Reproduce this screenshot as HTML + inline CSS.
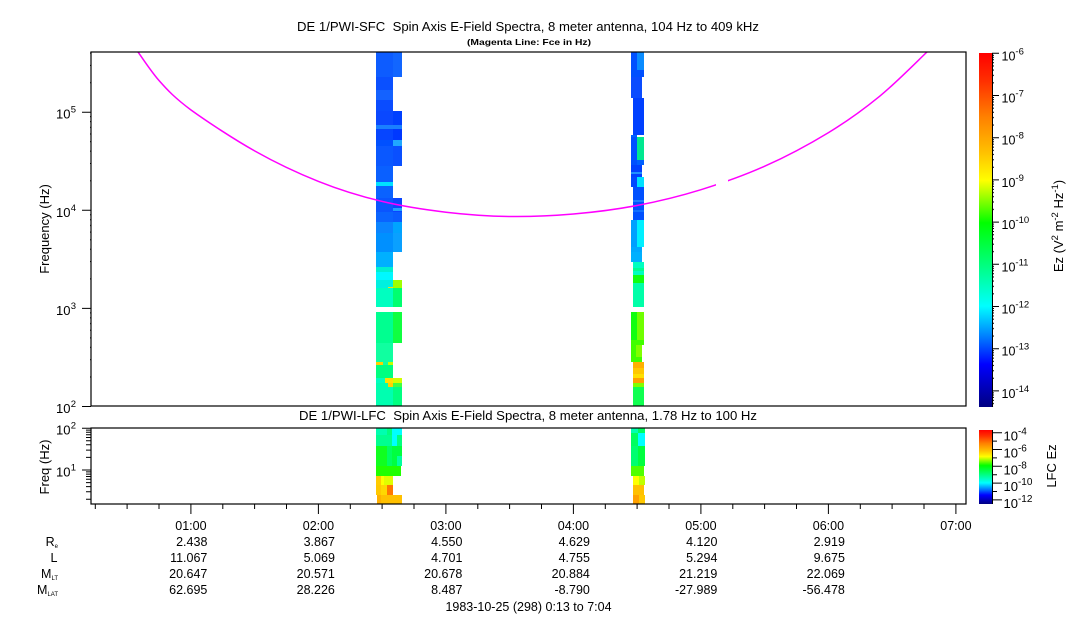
<!DOCTYPE html>
<html>
<head>
<meta charset="utf-8">
<style>
html,body{margin:0;padding:0;background:#fff;}
svg{display:block;}
text{font-family:"Liberation Sans",Arial,sans-serif;fill:#000;}
</style>
</head>
<body>
<svg width="1083" height="620" viewBox="0 0 1083 620" xmlns="http://www.w3.org/2000/svg">
<defs>
<linearGradient id="jet" x1="0" y1="0" x2="0" y2="1">
<stop offset="0" stop-color="#ff0000"/>
<stop offset="0.08" stop-color="#ff3000"/>
<stop offset="0.18" stop-color="#ff8000"/>
<stop offset="0.28" stop-color="#ffc000"/>
<stop offset="0.36" stop-color="#ffff00"/>
<stop offset="0.42" stop-color="#80ff00"/>
<stop offset="0.48" stop-color="#00ff00"/>
<stop offset="0.60" stop-color="#00ff80"/>
<stop offset="0.715" stop-color="#00ffff"/>
<stop offset="0.80" stop-color="#0080ff"/>
<stop offset="0.88" stop-color="#0000ff"/>
<stop offset="1" stop-color="#000080"/>
</linearGradient>
<pattern id="cbm" x="0" y="53.3" width="10" height="42.2" patternUnits="userSpaceOnUse">
<path d="M0 1.93h4M0 4.1h4M0 6.5h4M0 9.4h4M0 12.7h4M0 16.8h4M0 22.07h4M0 29.5h4" stroke="#000" stroke-width="1"/>
</pattern>
<pattern id="lax" x="0" y="14.1" width="10" height="98.1" patternUnits="userSpaceOnUse">
<path d="M0 4.5h5M0 9.5h5M0 15.2h5M0 21.8h5M0 29.5h5M0 39h5M0 51.3h5M0 68.6h5" stroke="#000" stroke-width="1"/>
</pattern>
<clipPath id="mainclip"><rect x="91" y="52" width="875" height="354"/></clipPath>
</defs>

<!-- Titles -->
<text x="528" y="31" text-anchor="middle" font-size="13" textLength="462" lengthAdjust="spacingAndGlyphs" style="white-space:pre">DE 1/PWI-SFC  Spin Axis E-Field Spectra, 8 meter antenna, 104 Hz to 409 kHz</text>
<text x="529" y="45" text-anchor="middle" font-size="8.5" font-weight="bold" textLength="124" lengthAdjust="spacingAndGlyphs">(Magenta Line: Fce in Hz)</text>
<text x="528" y="420" text-anchor="middle" font-size="13" textLength="458" lengthAdjust="spacingAndGlyphs" style="white-space:pre">DE 1/PWI-LFC  Spin Axis E-Field Spectra, 8 meter antenna, 1.78 Hz to 100 Hz</text>

<!-- Main plot data -->
<g shape-rendering="crispEdges">
<rect x="376" y="52" width="17" height="25" fill="#0d5cff"/><rect x="393" y="52" width="9" height="25" fill="#1266ff"/>
<rect x="376" y="77" width="17" height="13" fill="#0a50ff"/>
<rect x="376" y="90" width="17" height="10" fill="#1462ff"/>
<rect x="376" y="100" width="17" height="11" fill="#0a4cff"/>
<rect x="376" y="111" width="17" height="14" fill="#0a48ff"/><rect x="393" y="111" width="9" height="14" fill="#0040ff"/>
<rect x="376" y="125" width="26" height="4" fill="#1a80ff"/>
<rect x="376" y="129" width="17" height="11" fill="#0645ff"/><rect x="393" y="129" width="9" height="11" fill="#0038ff"/>
<rect x="376" y="140" width="17" height="6" fill="#0050ff"/><rect x="393" y="140" width="9" height="6" fill="#20a8ff"/>
<rect x="376" y="146" width="17" height="20" fill="#0a58ff"/><rect x="393" y="146" width="9" height="20" fill="#0a50ff"/>
<rect x="376" y="166" width="17" height="16" fill="#0a60ff"/>
<rect x="376" y="182" width="17" height="4" fill="#00e0ff"/>
<rect x="376" y="186" width="17" height="12" fill="#0a62ff"/>
<rect x="376" y="198" width="17" height="14" fill="#0a55ff"/><rect x="393" y="198" width="9" height="14" fill="#0a45ff"/>
<rect x="393" y="208" width="9" height="3" fill="#20a0ff"/>
<rect x="376" y="212" width="17" height="10" fill="#0a64ff"/><rect x="393" y="212" width="9" height="10" fill="#0a5cff"/>
<rect x="376" y="222" width="17" height="11" fill="#0a84ff"/><rect x="393" y="222" width="9" height="11" fill="#00a4ff"/>
<rect x="376" y="233" width="17" height="19" fill="#0090ff"/><rect x="393" y="233" width="9" height="19" fill="#0aa0ff"/>
<rect x="376" y="252" width="17" height="15" fill="#00b0ff"/>
<rect x="376" y="267" width="17" height="5" fill="#00f0d0"/>
<rect x="376" y="272" width="17" height="8" fill="#00f8ff"/>
<rect x="376" y="280" width="17" height="8" fill="#00f0e0"/><rect x="393" y="280" width="9" height="8" fill="#a0ff00"/>
<rect x="388" y="287" width="5" height="3" fill="#ffe000"/>
<rect x="376" y="288" width="17" height="19" fill="#00ffc0"/><rect x="393" y="288" width="9" height="19" fill="#00ff70"/>
<rect x="376" y="312" width="17" height="31" fill="#00ff90"/><rect x="393" y="312" width="9" height="31" fill="#10ff40"/>
<rect x="376" y="343" width="17" height="19" fill="#10ffa0"/>
<rect x="376" y="362" width="7" height="3" fill="#ffd000"/><rect x="383" y="362" width="5" height="3" fill="#10ffa0"/><rect x="388" y="362" width="5" height="3" fill="#c0ff00"/>
<rect x="376" y="365" width="17" height="13" fill="#00ff80"/>
<rect x="376" y="378" width="9" height="5" fill="#00ffc0"/><rect x="385" y="378" width="8" height="5" fill="#ffe000"/><rect x="393" y="378" width="9" height="5" fill="#d0ff00"/>
<rect x="376" y="383" width="12" height="4" fill="#00ffb0"/><rect x="388" y="383" width="5" height="4" fill="#ffd000"/><rect x="393" y="383" width="9" height="4" fill="#40ff40"/>
<rect x="376" y="387" width="17" height="19" fill="#00ffb0"/><rect x="393" y="387" width="9" height="19" fill="#00ff80"/>

<rect x="631" y="52" width="6" height="25" fill="#0050ff"/><rect x="637" y="52" width="7" height="18" fill="#0a8cff"/><rect x="637" y="70" width="7" height="7" fill="#0050ff"/>
<rect x="631" y="77" width="11" height="21" fill="#0a4cff"/>
<rect x="633" y="98" width="11" height="37" fill="#0040ff"/>
<rect x="631" y="135" width="6" height="3" fill="#0060ff"/>
<rect x="631" y="137" width="6" height="28" fill="#0050ff"/><rect x="637" y="137" width="7" height="23" fill="#00e890"/><rect x="637" y="160" width="7" height="5" fill="#0060ff"/>
<rect x="631" y="165" width="11" height="12" fill="#0040ff"/><rect x="631" y="172" width="11" height="2" fill="#2090ff"/>
<rect x="631" y="177" width="6" height="10" fill="#0048ff"/><rect x="637" y="177" width="7" height="10" fill="#00e0ff"/>
<rect x="633" y="187" width="11" height="33" fill="#0050ff"/><rect x="633" y="200" width="11" height="2" fill="#1a80ff"/><rect x="633" y="210" width="11" height="2" fill="#1070ff"/>
<rect x="631" y="220" width="6" height="27" fill="#00a0ff"/><rect x="637" y="220" width="7" height="27" fill="#00f0ff"/>
<rect x="631" y="247" width="11" height="5" fill="#00a8ff"/>
<rect x="631" y="252" width="11" height="10" fill="#00b0ff"/>
<rect x="633" y="262" width="11" height="13" fill="#00ffc0"/><rect x="633" y="268" width="11" height="3" fill="#00ff90"/>
<rect x="633" y="275" width="11" height="8" fill="#10ff10"/>
<rect x="633" y="283" width="11" height="24" fill="#00ffa8"/>
<rect x="631" y="312" width="6" height="28" fill="#10ff10"/><rect x="637" y="312" width="7" height="28" fill="#70ff00"/>
<rect x="631" y="340" width="13" height="5" fill="#40ff00"/>
<rect x="631" y="345" width="5" height="12" fill="#40ff00"/><rect x="636" y="345" width="6" height="12" fill="#80ff00"/>
<rect x="631" y="357" width="11" height="5" fill="#40ff00"/>
<rect x="633" y="362" width="11" height="6" fill="#ffb000"/>
<rect x="633" y="368" width="11" height="6" fill="#ffc800"/>
<rect x="633" y="374" width="11" height="4" fill="#ffe000"/>
<rect x="633" y="378" width="11" height="5" fill="#ffa000"/>
<rect x="633" y="383" width="11" height="4" fill="#80ff00"/>
<rect x="633" y="387" width="11" height="19" fill="#10ff50"/>
</g>

<!-- Magenta Fce curve -->
<g clip-path="url(#mainclip)">
<path d="M134,47 L138,52 C141.5,56.6 150.2,70.3 159,80.5 C167.8,90.5 175.0,98 191,110 C207.0,121.5 233.5,139 254.8,151 C276.1,163 297.3,173 318.5,181.4 C339.7,189.9 360.8,196.3 382,201.4 C403.3,206.5 424.7,209.7 446,212.2 C467.3,214.7 488.5,216.2 509.8,216.5 C531.1,216.8 552.3,215.8 573.5,214 C594.7,212.2 615.8,209.5 637,205.5 C658.3,201.5 679.7,196.3 701,189.7 C722.3,183.1 743.8,175.6 765,166.1 C786.3,156.6 809.4,144.2 828.5,132.6 C847.6,121.0 863.2,109.7 879.6,96.3 C896.0,82.9 919.1,59.4 927,52 L931,47" fill="none" stroke="#ff00ff" stroke-width="1.5"/>
<rect x="716" y="170" width="12" height="25" fill="#fff"/>
</g>

<!-- Main plot frame -->
<rect x="91" y="52" width="875" height="354" fill="none" stroke="#000" stroke-width="1.2"/>
<!-- Main y-axis ticks -->
<rect x="86" y="52" width="5" height="355" fill="url(#lax)"/>
<path d="M82 112.2h9M82 210.3h9M82 308.4h9M82 406.5h9" stroke="#000" stroke-width="1"/>
<g font-size="13">
<text x="70.5" y="118.7" text-anchor="end">10</text><text x="70.7" y="112.7" font-size="9.5">5</text>
<text x="70.5" y="216.8" text-anchor="end">10</text><text x="70.7" y="210.8" font-size="9.5">4</text>
<text x="70.5" y="314.9" text-anchor="end">10</text><text x="70.7" y="308.9" font-size="9.5">3</text>
<text x="70.5" y="413" text-anchor="end">10</text><text x="70.7" y="407" font-size="9.5">2</text>
</g>
<text transform="translate(49,229) rotate(-90)" text-anchor="middle" font-size="13">Frequency (Hz)</text>

<!-- Main colorbar -->
<rect x="979" y="53" width="13" height="354" fill="url(#jet)"/>
<path d="M992.5 53V407" stroke="#000" stroke-width="1"/>
<rect x="992" y="53" width="4" height="354" fill="url(#cbm)"/>
<path d="M992 53.3h7M992 95.5h7M992 137.7h7M992 179.9h7M992 222.1h7M992 264.3h7M992 306.5h7M992 348.7h7M992 390.9h7" stroke="#000" stroke-width="1"/>
<g font-size="12.5">
<text x="1001.5" y="60.3">10<tspan font-size="9.5" dy="-6">-6</tspan></text>
<text x="1001.5" y="102.5">10<tspan font-size="9.5" dy="-6">-7</tspan></text>
<text x="1001.5" y="144.7">10<tspan font-size="9.5" dy="-6">-8</tspan></text>
<text x="1001.5" y="186.9">10<tspan font-size="9.5" dy="-6">-9</tspan></text>
<text x="1001.5" y="229.1">10<tspan font-size="9.5" dy="-6">-10</tspan></text>
<text x="1001.5" y="271.3">10<tspan font-size="9.5" dy="-6">-11</tspan></text>
<text x="1001.5" y="313.5">10<tspan font-size="9.5" dy="-6">-12</tspan></text>
<text x="1001.5" y="355.7">10<tspan font-size="9.5" dy="-6">-13</tspan></text>
<text x="1001.5" y="397.9">10<tspan font-size="9.5" dy="-6">-14</tspan></text>
</g>
<text transform="translate(1063,226) rotate(-90)" text-anchor="middle" font-size="13">Ez (V<tspan font-size="9.5" dy="-5">2</tspan><tspan dy="5"> m</tspan><tspan font-size="9.5" dy="-5">-2</tspan><tspan dy="5"> Hz</tspan><tspan font-size="9.5" dy="-5">-1</tspan><tspan dy="5">)</tspan></text>

<!-- Lower plot data -->
<g shape-rendering="crispEdges">
<rect x="376" y="428" width="11" height="7" fill="#00ffb0"/><rect x="387" y="428" width="5" height="7" fill="#00ff80"/><rect x="392" y="428" width="10" height="7" fill="#00ffff"/>
<rect x="376" y="435" width="16" height="11" fill="#00ff90"/><rect x="392" y="435" width="5" height="11" fill="#00ffff"/><rect x="397" y="435" width="5" height="11" fill="#00ff80"/>
<rect x="376" y="446" width="16" height="20" fill="#10ff20"/><rect x="387" y="446" width="5" height="20" fill="#00ff60"/><rect x="392" y="446" width="10" height="20" fill="#00ff40"/><rect x="397" y="456" width="5" height="10" fill="#00ffa0"/>
<rect x="376" y="466" width="25" height="10" fill="#20ff00"/>
<rect x="376" y="476" width="5" height="9" fill="#ffcc00"/><rect x="381" y="476" width="3" height="9" fill="#ffff00"/><rect x="384" y="476" width="9" height="9" fill="#e0ff00"/>
<rect x="376" y="485" width="5" height="10" fill="#ffc800"/><rect x="381" y="485" width="6" height="10" fill="#ffd800"/><rect x="387" y="485" width="6" height="10" fill="#ff7800"/>
<rect x="377" y="495" width="4" height="9" fill="#ffb000"/><rect x="381" y="495" width="21" height="9" fill="#ffc000"/>

<rect x="631" y="428" width="7" height="5" fill="#00ffb0"/><rect x="638" y="428" width="7" height="5" fill="#00ff60"/>
<rect x="631" y="433" width="7" height="13" fill="#00ff60"/><rect x="638" y="433" width="7" height="13" fill="#00ffff"/>
<rect x="631" y="446" width="7" height="20" fill="#00ff70"/><rect x="638" y="446" width="7" height="20" fill="#00ff40"/>
<rect x="631" y="466" width="13" height="10" fill="#50ff00"/>
<rect x="633" y="476" width="6" height="9" fill="#ffff00"/><rect x="639" y="476" width="6" height="9" fill="#c0ff00"/>
<rect x="633" y="485" width="11" height="10" fill="#ffc000"/>
<rect x="633" y="495" width="6" height="9" fill="#ffa000"/><rect x="639" y="495" width="6" height="9" fill="#ffc800"/>
</g>

<!-- Lower plot frame -->
<rect x="91" y="428" width="875" height="76" fill="none" stroke="#000" stroke-width="1.2"/>
<path d="M82 428.2h9M82 470h9" stroke="#000" stroke-width="1"/>
<path d="M86 499.2h5M86 491.8h5M86 486.6h5M86 482.6h5M86 479.3h5M86 476.5h5M86 474.1h5M86 471.9h5M86 457.4h5M86 450.1h5M86 444.8h5M86 440.8h5M86 437.5h5M86 434.7h5M86 432.3h5M86 430.1h5" stroke="#000" stroke-width="1"/>
<g font-size="13">
<text x="70.5" y="434.7" text-anchor="end">10</text><text x="70.7" y="428.7" font-size="9.5">2</text>
<text x="70.5" y="476.5" text-anchor="end">10</text><text x="70.7" y="470.5" font-size="9.5">1</text>
</g>
<text transform="translate(49,467) rotate(-90)" text-anchor="middle" font-size="13">Freq (Hz)</text>

<!-- Lower colorbar -->
<rect x="979" y="430" width="13" height="74" fill="url(#jet)"/>
<path d="M992.5 430V504" stroke="#000" stroke-width="1"/>
<path d="M992 432.7h10M992 449.5h10M992 466.3h10M992 483.1h10M992 499.9h10M992 441.1h5M992 457.9h5M992 474.7h5M992 491.5h5" stroke="#000" stroke-width="1"/>
<g font-size="13">
<text x="1003.5" y="440.7">10<tspan font-size="10" dy="-6">-4</tspan></text>
<text x="1003.5" y="457.5">10<tspan font-size="10" dy="-6">-6</tspan></text>
<text x="1003.5" y="474.3">10<tspan font-size="10" dy="-6">-8</tspan></text>
<text x="1003.5" y="491.1">10<tspan font-size="10" dy="-6">-10</tspan></text>
<text x="1003.5" y="507.9">10<tspan font-size="10" dy="-6">-12</tspan></text>
</g>
<text transform="translate(1056,466) rotate(-90)" text-anchor="middle" font-size="13">LFC Ez</text>

<!-- X-axis ticks -->
<path d="M95.3 504v5M127.1 504v5M159 504v5M222.8 504v5M254.6 504v5M286.5 504v5M350.3 504v5M382.1 504v5M414 504v5M477.8 504v5M509.6 504v5M541.5 504v5M605.3 504v5M637.1 504v5M669 504v5M732.8 504v5M764.6 504v5M796.5 504v5M860.3 504v5M892.1 504v5M924 504v5" stroke="#000" stroke-width="1"/>
<path d="M190.9 504v10M318.4 504v10M445.9 504v10M573.4 504v10M700.9 504v10M828.4 504v10M955.9 504v10" stroke="#000" stroke-width="1"/>

<!-- X labels and ephemeris -->
<g font-size="12.5" text-anchor="middle">
<text x="190.9" y="530">01:00</text>
<text x="318.4" y="530">02:00</text>
<text x="445.9" y="530">03:00</text>
<text x="573.4" y="530">04:00</text>
<text x="700.9" y="530">05:00</text>
<text x="828.4" y="530">06:00</text>
<text x="955.9" y="530">07:00</text>
</g>
<g font-size="12.5" text-anchor="end">
<text x="207.4" y="546">2.438</text><text x="207.4" y="562">11.067</text><text x="207.4" y="578">20.647</text><text x="207.4" y="594">62.695</text>
<text x="334.9" y="546">3.867</text><text x="334.9" y="562">5.069</text><text x="334.9" y="578">20.571</text><text x="334.9" y="594">28.226</text>
<text x="462.4" y="546">4.550</text><text x="462.4" y="562">4.701</text><text x="462.4" y="578">20.678</text><text x="462.4" y="594">8.487</text>
<text x="589.9" y="546">4.629</text><text x="589.9" y="562">4.755</text><text x="589.9" y="578">20.884</text><text x="589.9" y="594">-8.790</text>
<text x="717.4" y="546">4.120</text><text x="717.4" y="562">5.294</text><text x="717.4" y="578">21.219</text><text x="717.4" y="594">-27.989</text>
<text x="844.9" y="546">2.919</text><text x="844.9" y="562">9.675</text><text x="844.9" y="578">22.069</text><text x="844.9" y="594">-56.478</text>
</g>
<g font-size="12.5" text-anchor="end">
<text x="58" y="546">R<tspan font-size="6" dy="2">e</tspan></text>
<text x="57.5" y="562">L</text>
<text x="58" y="578">M<tspan font-size="6" dy="2">LT</tspan></text>
<text x="58" y="594">M<tspan font-size="6" dy="2">LAT</tspan></text>
</g>
<text x="528.5" y="611" text-anchor="middle" font-size="12.5">1983-10-25 (298) 0:13 to 7:04</text>
</svg>
</body>
</html>
